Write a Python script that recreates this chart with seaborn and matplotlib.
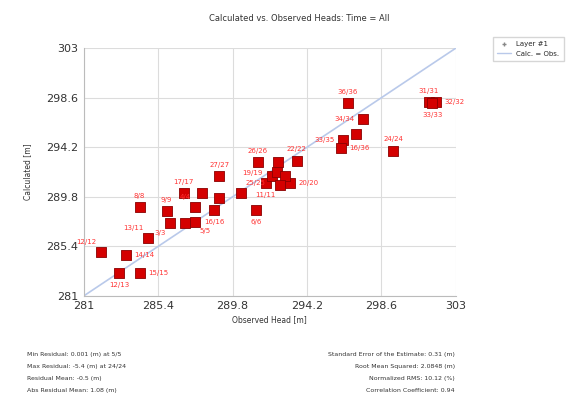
import pandas as pd
import matplotlib
matplotlib.use("Agg")
import matplotlib.pyplot as plt
import seaborn as sns
from matplotlib.lines import Line2D

# ------------------------------
# Données
labels = ["12/12", "12/13", "14/14", "15/15", "13/11", "8/8", "9/9", "17/17",
          "18/18", "3/3", "2/2", "5/5", "4/4", "16/16", "7/7", "27/27",
          "25/25", "6/6", "26/26", "28/28", "22/22", "19/19", "21/21", "23/23",
          "20/20", "10/10", "11/11", "36/36", "34/34", "30/30", "33/35", "16/36",
          "24/24", "31/31", "32/32", "33/33"]
observed = [282.0, 283.1, 283.5, 284.3, 284.8, 284.3, 285.9, 286.9,
            288.0, 286.1, 287.0, 287.6, 287.6, 288.7, 289.0, 289.0,
            290.3, 291.2, 291.3, 292.5, 293.6, 291.8, 292.1, 292.4,
            293.2, 292.9, 292.6, 296.6, 297.5, 297.1, 296.3, 296.2,
            299.3, 301.4, 301.8, 301.6]
calculated = [284.9, 283.0, 284.6, 283.0, 286.1, 288.9, 288.5, 290.1,
              290.1, 287.5, 287.5, 287.6, 288.9, 288.6, 289.7, 291.6,
              290.1, 288.6, 292.9, 292.9, 293.0, 291.0, 291.6, 292.0,
              291.0, 291.6, 290.8, 298.1, 296.7, 295.4, 294.8, 294.1,
              293.9, 298.2, 298.2, 298.1]
# position de l'étiquette par rapport au point
label_pos = ["ul", "b", "r", "r", "ul", "u", "u", "u",
             "n", "bl", "n", "br", "ul", "b", "n", "u",
             "ur", "b", "u", "n", "u", "ul", "n", "n",
             "r", "n", "bl", "u", "l", "n", "l", "r",
             "u", "u", "r", "b"]
line_ends = [281, 303]
ticks = [281, 285.4, 289.8, 294.2, 298.6, 303]

stats_left = ["Min Residual: 0.001 (m) at 5/5",
              "Max Residual: -5.4 (m) at 24/24",
              "Residual Mean: -0.5 (m)",
              "Abs Residual Mean: 1.08 (m)"]
stats_right = ["Standard Error of the Estimate: 0.31 (m)",
               "Root Mean Squared: 2.0848 (m)",
               "Normalized RMS: 10.12 (%)",
               "Correlation Coefficient: 0.94"]

df = pd.DataFrame({"label": labels, "obs": observed, "calc": calculated, "pos": label_pos})

# ------------------------------
sns.set_style("whitegrid", {"grid.color": "#dcdcdc", "axes.edgecolor": "#bbbbbb"})
fig = plt.figure(figsize=(5.86, 3.94), dpi=100)
ax = fig.add_axes([0.143, 0.249, 0.635, 0.629])

ax.plot(line_ends, line_ends, color="#b9c9ea", lw=1.2, zorder=1)
sns.scatterplot(data=df, x="obs", y="calc", marker="s", s=45, color="#d40000",
                edgecolor="#8a0000", linewidth=0.6, ax=ax, zorder=3, legend=False)

offs = {"u": (0, 6, "center", "bottom"), "b": (0, -6, "center", "top"),
        "r": (6, 0, "left", "center"), "l": (-6, 0, "right", "center"),
        "ul": (-3, 5, "right", "bottom"), "ur": (3, 5, "left", "bottom"),
        "bl": (-3, -5, "right", "top"), "br": (3, -5, "left", "top")}
for _, r in df.iterrows():
    if r["pos"] == "n":
        continue
    dx, dy, ha, va = offs[r["pos"]]
    ax.annotate(r["label"], (r["obs"], r["calc"]), xytext=(dx, dy),
                textcoords="offset points", ha=ha, va=va, fontsize=5,
                color="#ff3333", zorder=4)

ax.set_xlim(281, 303)
ax.set_ylim(281, 303)
ax.set_xticks(ticks)
ax.set_yticks(ticks)
ax.set_xticklabels([f"{t:g}" for t in ticks], fontsize=8, color="#333333")
ax.set_yticklabels([f"{t:g}" for t in ticks], fontsize=8, color="#333333")
ax.tick_params(length=0, pad=4)
ax.set_xlabel("Observed Head [m]", fontsize=5.5, color="#333333", labelpad=3)
ax.set_ylabel("Calculated [m]", fontsize=5.5, color="#333333", labelpad=10)
for s in ["top", "right"]:
    ax.spines[s].set_visible(False)

fig.suptitle("Calculated vs. Observed Heads: Time = All", x=0.51, y=0.965,
             fontsize=6, color="#333333")

handles = [Line2D([], [], marker="+", color="#888888", ls="none", markersize=3),
           Line2D([], [], color="#b9c9ea", lw=1)]
fig.legend(handles, ["Layer #1", "Calc. = Obs."], loc="upper left",
           bbox_to_anchor=(0.835, 0.915), fontsize=5, frameon=True,
           edgecolor="#cccccc", fancybox=False, handlelength=2, borderpad=0.6)

for i, t in enumerate(stats_left):
    fig.text(0.046, 0.1 - i * 0.03, t, fontsize=4.5, color="#333333", va="center")
for i, t in enumerate(stats_right):
    fig.text(0.776, 0.1 - i * 0.03, t, fontsize=4.5, color="#333333", va="center", ha="right")

fig.savefig("out.png", dpi=100)
